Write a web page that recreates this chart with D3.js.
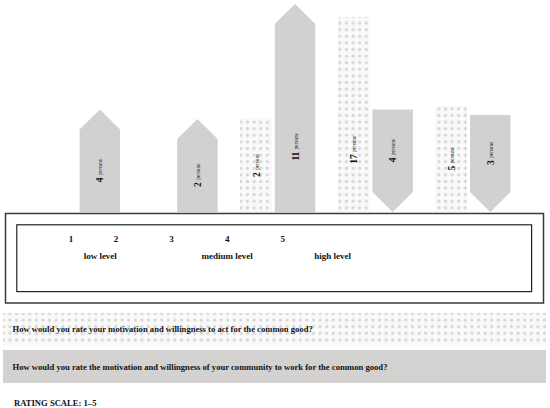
<!DOCTYPE html>
<html>
<head>
<meta charset="utf-8">
<script src="https://cdn.jsdelivr.net/npm/d3@7"></script>
<style>
  html, body { margin: 0; padding: 0; background: #fff; }
  svg { display: block; }
  text { font-family: "Liberation Serif", "Times New Roman", serif; font-weight: bold; fill: #111; }
</style>
</head>
<body>
<svg id="chart" width="550" height="408"></svg>
<script>
// ---- data ----
const ratings = [1, 2, 3, 4, 5];
const selfCounts = [0, 0, 2, 17, 5];          // "your motivation" (patterned)
const communityCounts = [4, 2, 11, 4, 3];     // "your community" (solid arrows)
const unitLabel = "persons";
const levelLabels = ["low level", "medium level", "high level"];
const levelAnchors = [1.65, 4, 5.9];          // position on rating scale
const questions = [
  "How would you rate your motivation and willingness to act for the common good?",
  "How would you rate the motivation and willingness of your community to work for the common good?"
];
const scaleTitle = "RATING SCALE: 1–5";

// ---- setup ----
const svg = d3.select("#chart");
const baseY = 212;

const defs = svg.append("defs");
const pat = defs.append("pattern")
  .attr("id", "dots").attr("patternUnits", "userSpaceOnUse")
  .attr("width", 6.6).attr("height", 6.6);
pat.append("rect").attr("width", 6.6).attr("height", 6.6).attr("fill", "#f9f9f9");
pat.append("path").attr("d", "M3.3,1.3 L5.3,3.3 L3.3,5.3 L1.3,3.3 Z").attr("fill", "#dcdcdc");
pat.append("circle").attr("cx", 3.3).attr("cy", 3.3).attr("r", 1.3).attr("fill", "#d6d6d6");

// scales
const x = d3.scaleBand().domain(ratings).range([44.8, 532.8]).paddingInner(0).paddingOuter(0);
// the infographic's bar heights are not proportional: polylinear value→height scale
const h = d3.scaleLinear().domain([0, 2, 3, 4, 5, 11, 17]).range([0, 93, 97, 102.5, 106, 208, 195]);

const selfW = 32, comOff = 34.8, comW = 40.5, head = 20;

const rows = ratings.map((r, i) => ({ rating: r, self: selfCounts[i], com: communityCounts[i] }));

// ---- self (patterned) bars ----
const selfRows = rows.filter(d => d.self > 0);
svg.append("g").selectAll("rect").data(selfRows).join("rect")
  .attr("x", d => x(d.rating))
  .attr("y", d => baseY - h(d.self))
  .attr("width", selfW)
  .attr("height", d => h(d.self))
  .attr("fill", "url(#dots)");

// ---- community arrows ----
function arrowPath(d) {
  const x0 = x(d.rating) + comOff, x1 = x0 + comW, xc = (x0 + x1) / 2;
  const top = baseY - h(d.com);
  if (d.rating <= 3) {
    return `M${x0},${baseY} L${x0},${top + head} L${xc},${top} L${x1},${top + head} L${x1},${baseY} Z`;
  }
  return `M${x0},${top} L${x1},${top} L${x1},${baseY - head} L${xc},${baseY} L${x0},${baseY - head} Z`;
}
svg.append("g").selectAll("path").data(rows.filter(d => d.com > 0)).join("path")
  .attr("d", arrowPath)
  .attr("fill", "#d1d1d1");

// ---- labels inside bars ----
function addLabel(g, cx, cy, n) {
  const t = g.append("text")
    .attr("transform", `translate(${cx},${cy}) rotate(-90)`)
    .attr("text-anchor", "middle")
    .attr("dominant-baseline", "central");
  t.append("tspan").attr("font-size", 9.5).text(n + " ");
  t.append("tspan").attr("font-size", 5.2).attr("font-weight", "normal").text(unitLabel);
}
const lab = svg.append("g");
selfRows.forEach(d => {
  const top = baseY - h(d.self);
  const cy = Math.max((top + baseY) / 2, 150);
  addLabel(lab, x(d.rating) + selfW / 2 + 0.5, cy, d.self);
});
rows.filter(d => d.com > 0).forEach(d => {
  const top = baseY - h(d.com);
  const up = d.rating <= 3;
  const b0 = up ? top + head : top, b1 = up ? baseY : baseY - head;
  const cy = Math.max((b0 + b1) / 2, 147);
  addLabel(lab, x(d.rating) + comOff + comW / 2 + 0.5, cy, d.com);
});

// ---- legend box ----
svg.append("rect").attr("x", 5.5).attr("y", 213.5).attr("width", 538).attr("height", 89.5)
  .attr("fill", "none").attr("stroke", "#3a3a3a").attr("stroke-width", 1.5);
svg.append("rect").attr("x", 16.8).attr("y", 224.8).attr("width", 514.8).attr("height", 66.8)
  .attr("fill", "none").attr("stroke", "#222").attr("stroke-width", 1.2);

const lx = d3.scaleLinear().domain([1, 2, 5]).range([71, 116, 282.7]);
svg.append("g").selectAll("text").data(ratings).join("text")
  .attr("x", d => lx(d)).attr("y", 238.5)
  .attr("text-anchor", "middle").attr("dominant-baseline", "central")
  .attr("font-size", 9).text(d => d);
svg.append("g").selectAll("text").data(levelLabels).join("text")
  .attr("x", (d, i) => lx(levelAnchors[i])).attr("y", 256)
  .attr("text-anchor", "middle").attr("dominant-baseline", "central")
  .attr("font-size", 9).text(d => d);

// ---- question bands ----
const bands = [
  { text: questions[0], y: 313, h: 32, fill: "url(#dots)" },
  { text: questions[1], y: 350, h: 33, fill: "#d3d2d0" }
];
svg.append("g").selectAll("rect").data(bands).join("rect")
  .attr("x", 3).attr("y", d => d.y).attr("width", 543).attr("height", d => d.h)
  .attr("fill", d => d.fill);
svg.append("g").selectAll("text").data(bands).join("text")
  .attr("x", 12.5).attr("y", d => d.y + d.h / 2)
  .attr("dominant-baseline", "central")
  .attr("font-size", 8.6).text(d => d.text);

svg.append("text").attr("x", 14).attr("y", 403)
  .attr("dominant-baseline", "central").attr("font-size", 8.6).text(scaleTitle);
</script>
</body>
</html>
